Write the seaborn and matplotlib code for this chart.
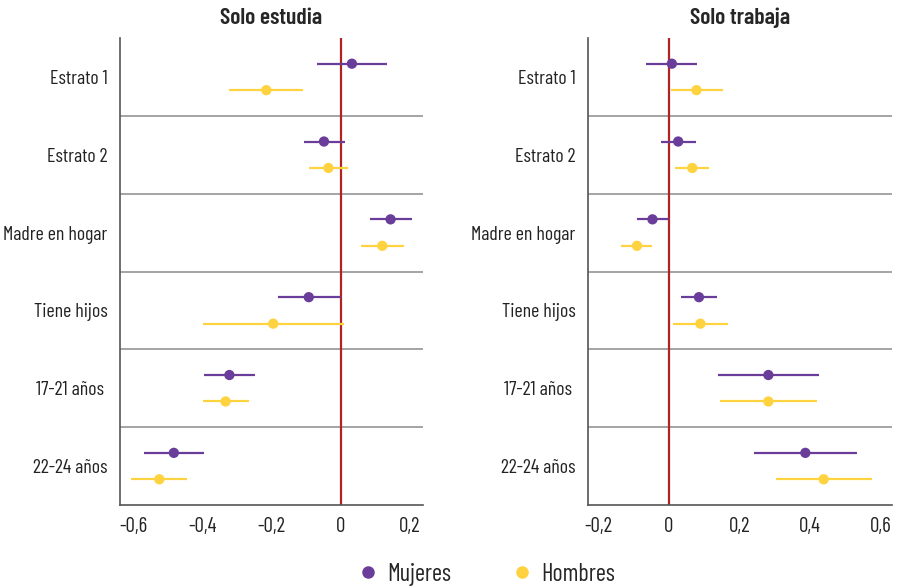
import pandas as pd
import matplotlib.pyplot as plt
import seaborn as sns
from matplotlib.lines import Line2D

categorias = ["Estrato 1", "Estrato 2", "Madre en hogar", "Tiene hijos", "17-21 años ", "22-24 años"]

# Solo estudia
est_muj = [0.032, -0.049, 0.144, -0.093, -0.323, -0.484]
est_muj_lo = [-0.070, -0.108, 0.083, -0.182, -0.396, -0.570]
est_muj_hi = [0.135, 0.011, 0.205, -0.001, -0.249, -0.398]
est_hom = [-0.216, -0.036, 0.120, -0.196, -0.334, -0.526]
est_hom_lo = [-0.323, -0.092, 0.058, -0.400, -0.400, -0.608]
est_hom_hi = [-0.109, 0.022, 0.182, 0.010, -0.267, -0.445]

# Solo trabaja
trab_muj = [0.008, 0.026, -0.047, 0.085, 0.282, 0.387]
trab_muj_lo = [-0.064, -0.024, -0.092, 0.034, 0.138, 0.240]
trab_muj_hi = [0.080, 0.078, -0.001, 0.137, 0.425, 0.534]
trab_hom = [0.078, 0.066, -0.091, 0.089, 0.282, 0.439]
trab_hom_lo = [0.006, 0.018, -0.136, 0.012, 0.145, 0.305]
trab_hom_hi = [0.152, 0.114, -0.047, 0.168, 0.419, 0.575]

colores = {"Mujeres": "#6a3d9a", "Hombres": "#ffd23f"}


def armar(muj, muj_lo, muj_hi, hom, hom_lo, hom_hi):
    filas = []
    for i, c in enumerate(categorias):
        filas.append({"cat": c, "pos": i - 0.17, "sexo": "Mujeres",
                      "coef": muj[i], "lo": muj_lo[i], "hi": muj_hi[i]})
        filas.append({"cat": c, "pos": i + 0.17, "sexo": "Hombres",
                      "coef": hom[i], "lo": hom_lo[i], "hi": hom_hi[i]})
    return pd.DataFrame(filas)


paneles = [
    ("Solo estudia", armar(est_muj, est_muj_lo, est_muj_hi, est_hom, est_hom_lo, est_hom_hi),
     (-0.64, 0.238), [-0.6, -0.4, -0.2, 0, 0.2]),
    ("Solo trabaja", armar(trab_muj, trab_muj_lo, trab_muj_hi, trab_hom, trab_hom_lo, trab_hom_hi),
     (-0.23, 0.633), [-0.2, 0, 0.2, 0.4, 0.6]),
]

sns.set_style("white")
plt.rcParams["font.family"] = ["Barlow Condensed", "DejaVu Sans"]

fig = plt.figure(figsize=(8.97, 5.87), dpi=100)
ejes = [fig.add_axes([120 / 897, 1 - 505 / 587, 303 / 897, 467 / 587]),
        fig.add_axes([588 / 897, 1 - 505 / 587, 304 / 897, 467 / 587])]

for ax, (titulo, df, xlim, xticks) in zip(ejes, paneles):
    for k in range(5):
        ax.axhline(k + 0.5, color="#8c8c8c", lw=1.1, zorder=1)
    ax.axvline(0, color="#b22222", lw=1.6, zorder=2)
    for sexo, g in df.groupby("sexo"):
        ax.hlines(g["pos"], g["lo"], g["hi"], color=colores[sexo], lw=1.6, zorder=3)
    sns.scatterplot(data=df, x="coef", y="pos", hue="sexo", palette=colores,
                    s=55, edgecolor="none", legend=False, ax=ax, zorder=4)
    ax.set_xlim(*xlim)
    ax.set_ylim(5.5, -0.5)
    ax.set_xticks(xticks)
    ax.set_xticklabels([("%g" % t).replace(".", ",") for t in xticks], fontsize=15)
    ax.set_yticks(range(len(categorias)))
    ax.set_yticklabels(categorias, fontsize=14.3)
    ax.set_xlabel("")
    ax.set_ylabel("")
    ax.set_title(titulo, fontsize=17, fontweight="semibold", pad=10)
    for lado in ["top", "right"]:
        ax.spines[lado].set_visible(False)
    for lado in ["left", "bottom"]:
        ax.spines[lado].set_color("#555555")
        ax.spines[lado].set_linewidth(1.2)
    ax.tick_params(axis="both", length=5, width=1, color="#555555", colors="#222222", pad=4)

handles = [Line2D([], [], marker="o", ls="", color=colores[s], markersize=8, label=s)
           for s in ["Mujeres", "Hombres"]]
fig.legend(handles=handles, loc="lower center", ncol=2, frameon=False, fontsize=17.5,
           bbox_to_anchor=(0.541, -0.035), handlelength=1.0, handletextpad=0.3,
           columnspacing=2.4)

fig.savefig("out.png", dpi=100)
